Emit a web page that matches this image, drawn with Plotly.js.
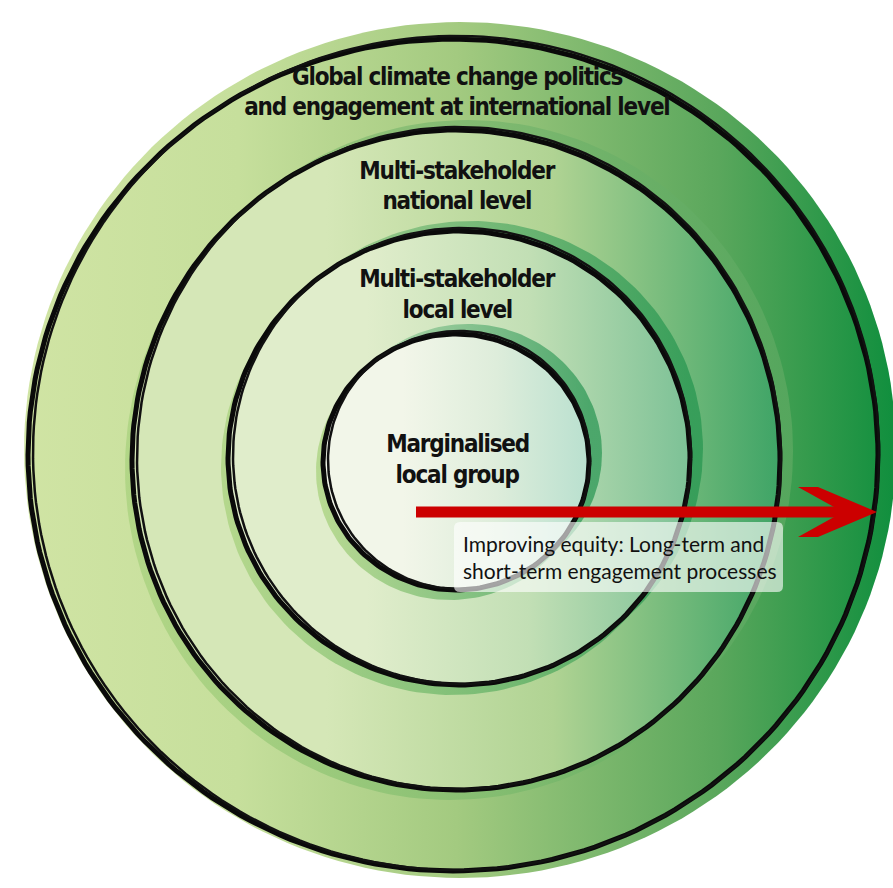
<!DOCTYPE html>
<html><head><meta charset="utf-8">
<script src="https://cdn.plot.ly/plotly-3.0.1.min.js"></script>
<style>html,body{margin:0;padding:0;background:#fff}#c{width:893px;height:888px}</style>
</head><body><div id="c"></div>
<script>
// ---- diagram data ----
const ringNames = ["Global climate change politics and engagement at international level",
                   "Multi-stakeholder national level","Multi-stakeholder local level","Marginalised local group"];
const ringCx = [453, 456, 459, 456];
const ringCy = [455, 460, 458, 462];
const ringRx = [425, 324, 231, 133];
const ringRy = [416, 330, 227, 128];
const ringLeftColor  = ["#d0e4a4", "#d5e7b7", "#e0edcb", "#f2f6e9"];
const ringMidColor   = ["#a3ca80", "#b0d393", "#c2dfb5", "#deeddb"];
const ringRightColor = ["#118f3e", "#3ea466", "#7cc196", "#b9e0cf"];
const shadowColor    = ["#5aa860", "#2f9a55", "#3c9f60"];
const labelLines = [["Global climate change politics","and engagement at international level"],
                    ["Multi-stakeholder","national level"],
                    ["Multi-stakeholder","local level"],
                    ["Marginalised","local group"]];
const labelY = [[77,107],[171,201],[279,310],[444,475]];
const arrowText = ["Improving equity: Long-term and","short-term engagement processes"];

function ellipse(cx, cy, rx, ry, n, phase) {
  const xs = [], ys = [];
  for (let i = 0; i <= n; i++) {
    const t = phase + 2 * Math.PI * i / n;
    xs.push(cx + rx * Math.cos(t)); ys.push(cy + ry * Math.sin(t));
  }
  return {x: xs, y: ys};
}

const traces = [];
// background blob (outer brush stroke)
{
  const e = ellipse(460, 450, 436, 428, 200, 0);
  traces.push({x: e.x, y: e.y, mode: "lines", line: {width: 0}, fill: "toself",
    fillgradient: {type: "horizontal", start: 20, stop: 893,
      colorscale: [[0, ringLeftColor[0]], [0.25, "#c6df9c"], [0.5, ringMidColor[0]], [0.8, "#5aa75c"], [1, ringRightColor[0]]]},
    hoverinfo: "skip", showlegend: false});
}
// shadow strokes and ring fills
for (let i = 1; i < 4; i++) {
  const s2 = ellipse(ringCx[i] - 6, ringCy[i] + 9, ringRx[i] + 1, ringRy[i] + 1, 200, 0);
  traces.push({x: s2.x, y: s2.y, mode: "lines", line: {width: 0}, fill: "toself",
    fillgradient: {type: "horizontal", start: ringCx[i] - ringRx[i], stop: ringCx[i] + ringRx[i],
      colorscale: [[0, "#a9d27e"], [1, shadowColor[i - 1]]]},
    opacity: 0.75, hoverinfo: "skip", showlegend: false});
  const s = ellipse(ringCx[i] + 12, ringCy[i] - 9, ringRx[i] + 1, ringRy[i] + 1, 200, 0);
  traces.push({x: s.x, y: s.y, mode: "lines", line: {width: 0}, fill: "toself",
    fillgradient: {type: "horizontal", start: ringCx[i] - ringRx[i], stop: ringCx[i] + ringRx[i],
      colorscale: [[0, ringMidColor[i - 1]], [1, shadowColor[i - 1]]]},
    opacity: 0.85, hoverinfo: "skip", showlegend: false});
  const e = ellipse(ringCx[i], ringCy[i], ringRx[i], ringRy[i], 200, 0);
  traces.push({x: e.x, y: e.y, mode: "lines", line: {width: 0}, fill: "toself",
    fillgradient: {type: "horizontal", start: ringCx[i] - ringRx[i], stop: ringCx[i] + ringRx[i],
      colorscale: [[0, ringLeftColor[i]], [0.3, ringLeftColor[i]], [0.65, ringMidColor[i]], [1, ringRightColor[i]]]},
    hoverinfo: "skip", showlegend: false});
}
// sketchy black outlines
for (let i = 0; i < 4; i++) {
  const a = ellipse(ringCx[i], ringCy[i], ringRx[i], ringRy[i], 240, 0);
  traces.push({x: a.x, y: a.y, mode: "lines", line: {color: "#0a0a0a", width: 5},
    hoverinfo: "skip", showlegend: false});
  const b = ellipse(ringCx[i] + 3, ringCy[i] - 2, ringRx[i] - 2, ringRy[i] + 1, 240, 0.3);
  traces.push({x: b.x, y: b.y, mode: "lines", line: {color: "#111", width: 2.5},
    hoverinfo: "skip", showlegend: false});
}
// red arrow
traces.push({x: [416, 848], y: [512, 512], mode: "lines", line: {color: "#cc0000", width: 11},
  hoverinfo: "skip", showlegend: false});
traces.push({x: [798, 818, 877, 818, 798, 843, 798], y: [487, 487, 512, 537, 537, 512, 487],
  mode: "lines", line: {width: 0}, fill: "toself", fillcolor: "#cc0000",
  hoverinfo: "skip", showlegend: false});

const annotations = [];
const labelFont = {family: "DejaVu Sans Condensed, sans-serif", size: 24, color: "#111", weight: "bold"};
for (let i = 0; i < 4; i++) {
  for (let j = 0; j < labelLines[i].length; j++) {
    annotations.push({x: 457, y: labelY[i][j], xref: "x", yref: "y", text: "<b>" + labelLines[i][j] + "</b>",
      showarrow: false, xanchor: "center", yanchor: "middle", font: labelFont});
  }
}
annotations.push({x: 461, y: 557, xref: "x", yref: "y", text: arrowText.join("<br>"),
  showarrow: false, xanchor: "left", yanchor: "middle", align: "left",
  font: {family: "Lato, Open Sans, sans-serif", size: 21, color: "#111"}});

const layout = {
  width: 893, height: 888, margin: {l: 0, r: 0, t: 0, b: 0},
  paper_bgcolor: "#fff", plot_bgcolor: "#fff", showlegend: false,
  xaxis: {range: [0, 893], visible: false, fixedrange: true},
  yaxis: {range: [888, 0], visible: false, fixedrange: true},
  shapes: [{type: "path", xref: "x", yref: "y",
    path: "M 460 522 L 777 522 Q 783 522 783 528 L 783 586 Q 783 592 777 592 L 460 592 Q 454 592 454 586 L 454 528 Q 454 522 460 522 Z",
    fillcolor: "rgba(255,255,255,0.62)", line: {width: 0}, layer: "above"}],
  annotations: annotations
};
Plotly.newPlot("c", traces, layout, {staticPlot: true, displayModeBar: false}).then(function (gd) {
  document.querySelectorAll("#c .annotation-text").forEach(function (t) {
    if ((t.style.fontFamily || "").indexOf("DejaVu") >= 0) {
      t.style.letterSpacing = "-1.2px";
    }
  });
});
</script></body></html>
